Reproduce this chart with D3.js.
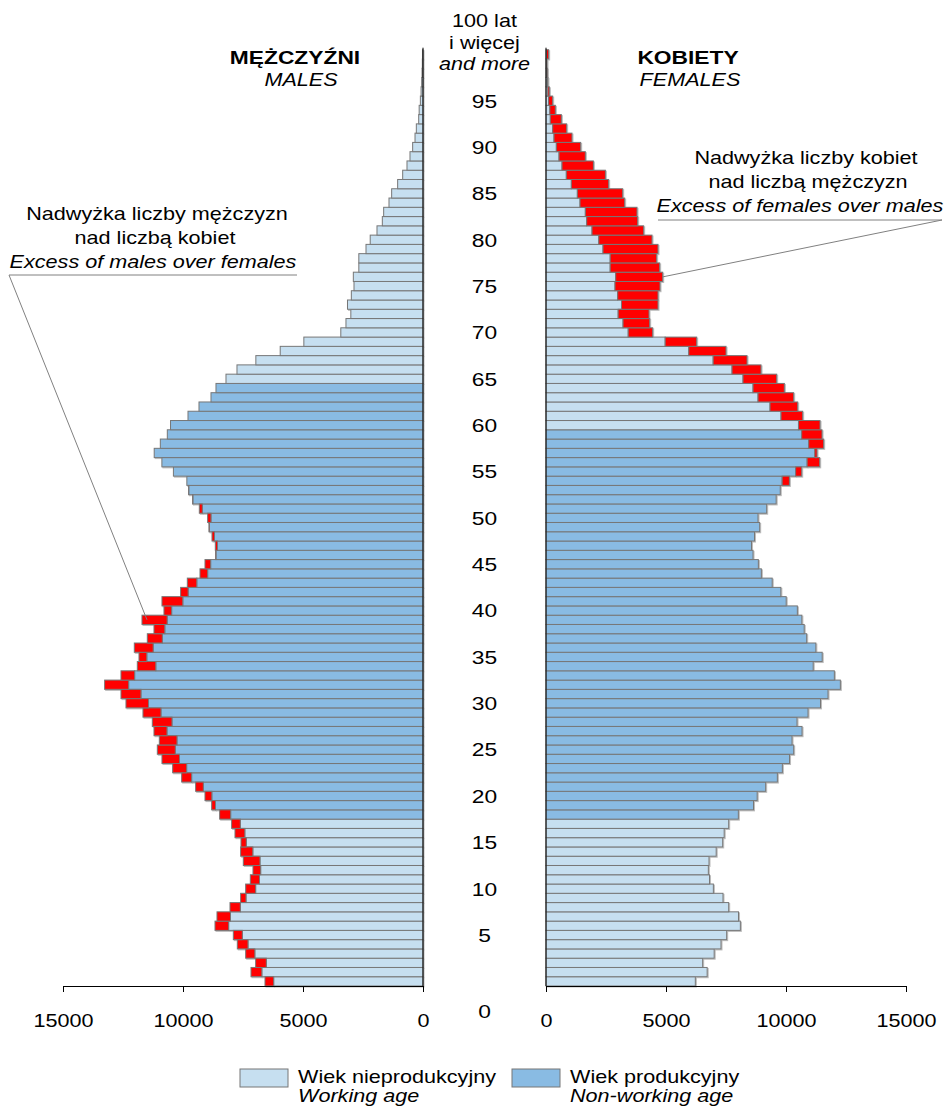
<!DOCTYPE html>
<html>
<head>
<meta charset="utf-8">
<script src="https://cdn.jsdelivr.net/npm/d3@7"></script>
<style>
  body { margin: 0; background: #fff; }
  svg text { font-family: "Liberation Sans", Arial, sans-serif; fill: #000; }
</style>
</head>
<body>
<svg id="chart" width="945" height="1109"></svg>
<script>
// ages 0 .. 100 (100 = "100 lat i więcej")
const ages = d3.range(0, 101);

const males = [
  6584, 7167, 6973, 7389, 7737, 7903, 8667, 8584, 8042, 7598,
  7389, 7195, 7084, 7487, 7598, 7584, 7834, 7973, 8473, 8806,
  9084, 9473, 10056, 10431, 10876, 11070, 10987, 11209, 11279, 11668,
  12376, 12584, 13265, 12584, 11904, 11834, 12029, 11487, 11209, 11709,
  10793, 10876, 10098, 9820, 9292, 9084, 8640, 8654, 8792, 8917,
  8973, 9320, 9598, 9765, 9840, 10400, 10880, 11200, 10945, 10654,
  10520, 9792, 9334, 8834, 8626, 8209, 7751, 6965, 5950, 4965,
  3425, 3210, 3007, 3146, 2986, 2875, 2903, 2674, 2674, 2375,
  2200, 1917, 1695, 1639, 1417, 1306, 1056, 847, 667, 542,
  431, 333, 278, 180, 160, 110, 80, 55, 40, 28,
  22
];

const females = [
  6222, 6715, 6528, 7007, 7292, 7528, 8098, 8021, 7612, 7375,
  6973, 6813, 6764, 6792, 7091, 7362, 7424, 7612, 8014, 8646,
  8799, 9153, 9640, 9848, 10147, 10320, 10251, 10668, 10459, 10918,
  11438, 11751, 12265, 12015, 11133, 11508, 11244, 10862, 10758, 10661,
  10473, 10008, 9786, 9425, 8973, 8848, 8626, 8563, 8688, 8903,
  8834, 9195, 9590, 9760, 10140, 10654, 11404, 11293, 11570, 11501,
  11418, 10695, 10487, 10320, 9931, 9612, 8959, 8376, 7501, 6278,
  4445, 4320, 4292, 4667, 4667, 4750, 4862, 4736, 4611, 4667,
  4417, 4070, 3820, 3792, 3278, 3195, 2611, 2473, 1973, 1639,
  1445, 1083, 861, 639, 389, 278, 139, 80, 60, 40,
  110
];

// working age ranges (produkcyjny)
const workMale = [18, 64];
const workFemale = [18, 59];

const tickValues = [0, 5000, 10000, 15000];
const ageTicks = d3.range(5, 100, 5);

const lightBlue = "#c6dff0";
const darkBlue = "#89bbe3";
const red = "#ff0000";
const edge = "#777777";
const stretch = 1.2;   // the original lettering is a bit wide

const svg = d3.select("#chart");

const defs = svg.append("defs");
defs.append("filter").attr("id", "shadow")
  .attr("x", "-5%").attr("y", "-20%").attr("width", "110%").attr("height", "160%")
  .append("feDropShadow")
  .attr("dx", 1).attr("dy", 1).attr("stdDeviation", 0.4)
  .attr("flood-color", "#bbbbbb");

const xL = d3.scaleLinear().domain([0, 15000]).range([423, 63]);
const xR = d3.scaleLinear().domain([0, 15000]).range([546, 906]);
const y = d3.scaleBand().domain(ages).range([986, 49.7]);

const rows = ages.map(a => ({ age: a, m: males[a], f: females[a] }));

const inWork = (a, r) => a >= r[0] && a <= r[1];

// text helper: placed with a translate, widened a little
function label(parent, x, yy, txt, opt = {}) {
  const t = parent.append("text")
    .attr("transform", `translate(${x},${yy}) scale(${stretch},1)`)
    .attr("text-anchor", opt.anchor || "middle")
    .style("font-size", (opt.size || 18) + "px")
    .text(txt);
  if (opt.italic) t.style("font-style", "italic");
  if (opt.bold) t.style("font-weight", "bold");
  if (opt.dy) t.attr("dy", opt.dy);
  return t;
}

// males
const gM = svg.append("g").attr("filter", "url(#shadow)");
gM.selectAll("rect.base")
  .data(rows)
  .enter().append("rect")
  .attr("class", "base")
  .attr("x", d => xL(Math.min(d.m, d.f)))
  .attr("y", d => y(d.age))
  .attr("width", d => xL(0) - xL(Math.min(d.m, d.f)))
  .attr("height", y.bandwidth())
  .attr("fill", d => inWork(d.age, workMale) ? darkBlue : lightBlue)
  .attr("stroke", edge).attr("stroke-width", 1);

gM.selectAll("rect.excess")
  .data(rows.filter(d => d.m > d.f))
  .enter().append("rect")
  .attr("class", "excess")
  .attr("x", d => xL(d.m))
  .attr("y", d => y(d.age))
  .attr("width", d => xL(d.f) - xL(d.m))
  .attr("height", y.bandwidth())
  .attr("fill", red)
  .attr("stroke", edge).attr("stroke-width", 1);

// females
const gF = svg.append("g").attr("filter", "url(#shadow)");
gF.selectAll("rect.base")
  .data(rows)
  .enter().append("rect")
  .attr("class", "base")
  .attr("x", xR(0))
  .attr("y", d => y(d.age))
  .attr("width", d => xR(Math.min(d.m, d.f)) - xR(0))
  .attr("height", y.bandwidth())
  .attr("fill", d => inWork(d.age, workFemale) ? darkBlue : lightBlue)
  .attr("stroke", edge).attr("stroke-width", 1);

gF.selectAll("rect.excess")
  .data(rows.filter(d => d.f > d.m))
  .enter().append("rect")
  .attr("class", "excess")
  .attr("x", d => xR(d.m))
  .attr("y", d => y(d.age))
  .attr("width", d => xR(d.f) - xR(d.m))
  .attr("height", y.bandwidth())
  .attr("fill", red)
  .attr("stroke", edge).attr("stroke-width", 1);

// zero lines
const topY = y(100);
svg.append("line").attr("x1", xL(0)).attr("x2", xL(0))
  .attr("y1", topY - 2).attr("y2", 986).attr("stroke", "#000");
svg.append("line").attr("x1", xR(0)).attr("x2", xR(0))
  .attr("y1", topY - 2).attr("y2", 986).attr("stroke", "#000");

// axes
function styleAxis(g) {
  g.select(".domain").attr("stroke", "#000");
  g.selectAll(".tick line").attr("stroke", "#000");
  g.selectAll(".tick text")
    .style("font-family", "'Liberation Sans', Arial, sans-serif")
    .style("font-size", "18px").attr("fill", "#000")
    .attr("transform", `scale(${stretch},1)`);
}
svg.append("g").attr("transform", "translate(0,986)")
  .call(d3.axisBottom(xL).tickValues(tickValues).tickFormat(d3.format("d"))
    .tickSize(6).tickSizeOuter(0).tickPadding(22))
  .call(styleAxis);
svg.append("g").attr("transform", "translate(0,986)")
  .call(d3.axisBottom(xR).tickValues(tickValues).tickFormat(d3.format("d"))
    .tickSize(6).tickSizeOuter(0).tickPadding(22))
  .call(styleAxis);

// age labels in the middle
const midX = (xL(0) + xR(0)) / 2;
const ageG = svg.append("g");
ageTicks.forEach(a => label(ageG, midX, y(a) + y.bandwidth() / 2, a, { dy: "0.36em", size: 19 }));
label(ageG, midX, 1018, "0", { size: 19 });

label(svg, midX, 27, "100 lat");
label(svg, midX, 49, "i więcej");
label(svg, midX, 70, "and more", { italic: true });

// side titles
label(svg, 295, 64, "MĘŻCZYŹNI", { bold: true, size: 19 });
label(svg, 301, 86, "MALES", { italic: true });
label(svg, 688, 64, "KOBIETY", { bold: true, size: 19 });
label(svg, 690, 86, "FEMALES", { italic: true });

// annotations
label(svg, 157, 220, "Nadwyżka liczby mężczyzn");
label(svg, 155, 244, "nad liczbą kobiet");
label(svg, 153, 268, "Excess of males over females", { italic: true });
svg.append("polyline")
  .attr("points", [[297, 275], [9, 275], [147, y(39) + y.bandwidth() / 2]].join(" "))
  .attr("fill", "none").attr("stroke", "#808080").attr("stroke-width", 1);

label(svg, 806, 164, "Nadwyżka liczby kobiet");
label(svg, 808, 188, "nad liczbą mężczyzn");
label(svg, 800, 212, "Excess of females over males", { italic: true });
svg.append("polyline")
  .attr("points", [[658, 220], [942, 220], [663, y(76) + y.bandwidth() / 2]].join(" "))
  .attr("fill", "none").attr("stroke", "#808080").attr("stroke-width", 1);

// legend
const legend = [
  { x: 240, fill: lightBlue, pl: "Wiek nieprodukcyjny", en: "Working age" },
  { x: 512, fill: darkBlue, pl: "Wiek produkcyjny", en: "Non-working age" }
];
legend.forEach(d => {
  const g = svg.append("g").attr("transform", `translate(${d.x},1069)`);
  g.append("rect").attr("width", 48).attr("height", 18)
    .attr("fill", d.fill).attr("stroke", edge);
  label(g, 58, 14, d.pl, { anchor: "start" });
  label(g, 58, 33, d.en, { anchor: "start", italic: true });
});
</script>
</body>
</html>
